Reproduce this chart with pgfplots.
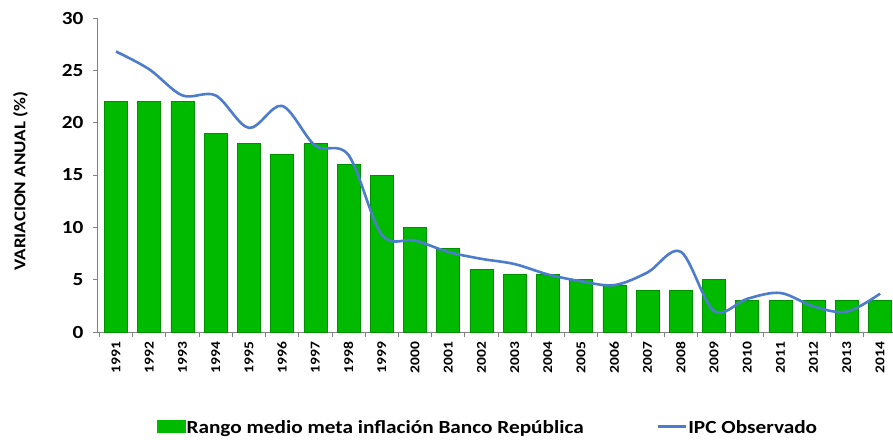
\documentclass[border=0pt]{standalone}
\usepackage{fontspec}
\setmainfont{Carlito}[FakeStretch=1.15]
\usepackage{pgfplots}
\pgfplotsset{compat=1.18}
\usetikzlibrary{calc}
\definecolor{barfill}{RGB}{0,186,0}
\definecolor{baredge}{RGB}{0,145,0}
\definecolor{ipcblue}{RGB}{76,124,204}
\definecolor{axgray}{RGB}{130,130,130}
\begin{document}
\begin{tikzpicture}[font=\bfseries]
\begin{axis}[
  scale only axis,
  width=795pt, height=314pt,
  xmin=-0.542, xmax=23.39,
  ymin=0, ymax=30,
  ytick={0,5,...,30},
  xtick={0,...,23},
  xticklabels={1991,1992,1993,1994,1995,1996,1997,1998,1999,2000,2001,2002,2003,2004,2005,2006,2007,2008,2009,2010,2011,2012,2013,2014},
  minor xtick={-0.5,0.5,...,23.5},
  every major x tick/.append style={draw=none},
  tick align=outside,
  major tick length=5pt, minor tick length=5pt,
  tick style={axgray, line width=0.8pt},
  axis x line*=bottom, axis y line*=left,
  axis line style={axgray, line width=1pt},
  /pgf/number format/assume math mode=true,
  yticklabel style={font=\bfseries\fontsize{18.5}{20}\selectfont, xshift=-6pt},
  xticklabel style={font=\bfseries\fontsize{13.5}{15}\selectfont, rotate=90, anchor=east, xshift=-1pt},
  ylabel={VARIACION ANUAL (\%)},
  ylabel style={font=\bfseries\fontsize{16.5}{18}\selectfont, at={(axis description cs:-0.0975,0.48)}, anchor=center},
  legend style={at={(axis description cs:0.49,-0.305)}, anchor=center, legend columns=2, draw=none, fill=none,
    font=\bfseries\fontsize{18.5}{20}\selectfont,
    /tikz/every even column/.append style={column sep=72pt},
    /tikz/every odd column/.append style={column sep=0pt},
    nodes={inner xsep=1pt}},
  legend cell align=left,
  clip=false,
]
\addplot[ybar, bar width=23pt, fill=barfill, draw=baredge, line width=0.6pt,
  legend image code/.code={\fill[barfill] (0pt,-5pt) rectangle (28pt,7pt);}]
  coordinates {(0,22) (1,22) (2,22) (3,19) (4,18) (5,17) (6,18) (7,16) (8,15) (9,10) (10,8) (11,6) (12,5.5) (13,5.5) (14,5) (15,4.5) (16,4) (17,4) (18,5) (19,3) (20,3) (21,3) (22,3) (23,3)};
\addlegendentry{Rango medio meta inflación Banco República}
\addplot[ipcblue, line width=2.6pt, smooth, tension=0.55,
  legend image code/.code={\draw[ipcblue, line width=2.6pt] (0pt,1pt) -- (28pt,1pt);}]
  coordinates {(0,26.8) (1,25.1) (2,22.6) (3,22.6) (4,19.5) (5,21.6) (6,17.8) (7,16.9) (8,9.3) (9,8.75) (10,7.65) (11,6.99) (12,6.49) (13,5.5) (14,4.85) (15,4.48) (16,5.69) (17,7.67) (18,2.0) (19,3.17) (20,3.73) (21,2.44) (22,1.94) (23,3.66)};
\addlegendentry{IPC Observado}
\end{axis}
\pgfresetboundingbox
\path[use as bounding box] ($(current axis.south west)+(-98pt,-107pt)$) rectangle ($(current axis.north east)+(0pt,18pt)$);
\end{tikzpicture}
\end{document}
